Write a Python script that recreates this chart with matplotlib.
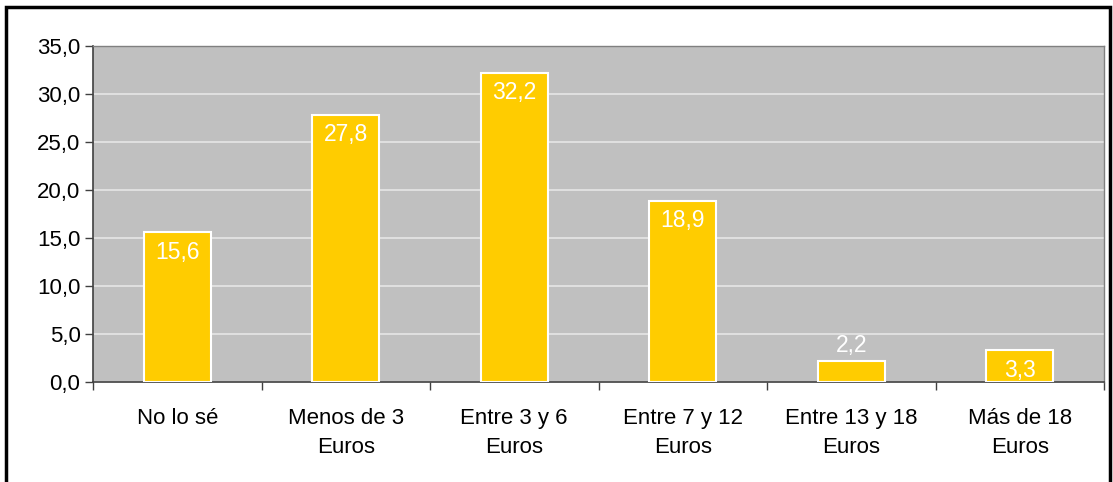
import matplotlib
matplotlib.use('Agg')
import matplotlib.pyplot as plt
import numpy as np
from matplotlib.patches import Rectangle

plt.rcParams['font.family'] = ['Liberation Sans', 'DejaVu Sans']

# ===== 数据 =====
categories = ["No lo sé", "Menos de 3\nEuros", "Entre 3 y 6\nEuros",
              "Entre 7 y 12\nEuros", "Entre 13 y 18\nEuros", "Más de 18\nEuros"]
values = [15.6, 27.8, 32.2, 18.9, 2.2, 3.3]
y_ticks = [0, 5, 10, 15, 20, 25, 30, 35]

fig = plt.figure(figsize=(11.13, 4.82), dpi=100)
ax = fig.add_axes([93 / 1113, 1 - 382 / 482, (1104 - 93) / 1113, (382 - 46) / 482])

x = np.arange(len(values))
ax.bar(x, values, width=0.4, color='#FFCC00', edgecolor='white', linewidth=1.5, zorder=3)

# ===== 数值标签 =====
for xi, v in zip(x, values):
    label = f"{v:.1f}".replace('.', ',')
    if v > 3.0:
        ax.annotate(label, (xi, v), xytext=(0, -6), textcoords='offset points',
                    ha='center', va='top', color='white', fontsize=16.5, zorder=4)
    else:
        ax.annotate(label, (xi, v), xytext=(0, 3), textcoords='offset points',
                    ha='center', va='bottom', color='white', fontsize=16.5, zorder=4)

# ===== 坐标轴 =====
ax.set_facecolor('#C0C0C0')
ax.set_xlim(-0.5, len(values) - 0.5)
ax.set_ylim(0, 35)
ax.set_yticks(y_ticks)
ax.set_yticklabels([f"{t:.1f}".replace('.', ',') for t in y_ticks], fontsize=16)
ax.yaxis.grid(True, color='#E6E6E6', linewidth=1.2, zorder=1)
ax.set_axisbelow(True)

ax.set_xticks(x)
ax.set_xticklabels(categories, fontsize=16, linespacing=1.45)
ax.tick_params(axis='x', length=0, pad=19)
ax.set_xticks(np.arange(len(values) + 1) - 0.5, minor=True)
ax.tick_params(axis='x', which='minor', length=6, color='#404040', width=1)
ax.tick_params(axis='y', length=6, color='#404040', width=1, pad=3)

for s in ['left', 'bottom']:
    ax.spines[s].set_color('#404040')
    ax.spines[s].set_linewidth(1.2)
for s in ['top', 'right']:
    ax.spines[s].set_color('#808080')
    ax.spines[s].set_linewidth(1)

# ===== 外框 =====
fig.patches.append(Rectangle((6 / 1113, -0.05), (1110 - 6) / 1113, 1.05 - 7 / 482,
                             transform=fig.transFigure, fill=False,
                             edgecolor='black', linewidth=2.5))

fig.savefig('out.png', dpi=100)
